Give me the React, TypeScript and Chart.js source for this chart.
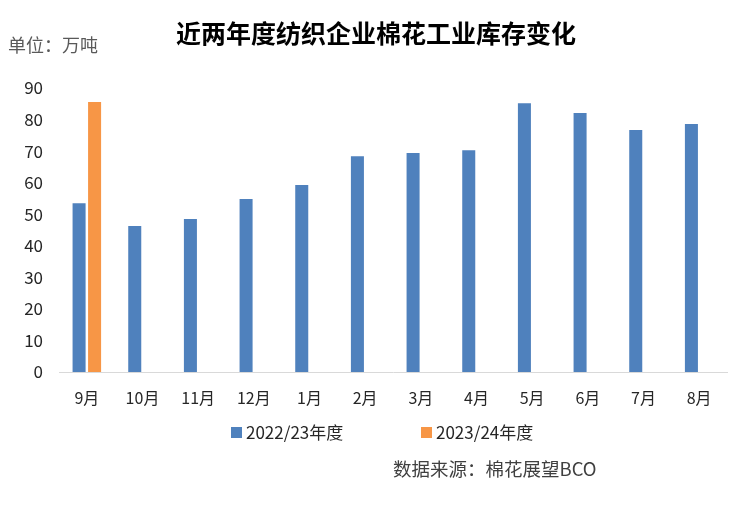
import React, { useEffect, useRef } from "react";
import { Chart, registerables } from "chart.js";

Chart.register(...registerables);

const categories = ["9月", "10月", "11月", "12月", "1月", "2月", "3月", "4月", "5月", "6月", "7月", "8月"];
const series2223 = [53.5, 46.3, 48.5, 54.8, 59.3, 68.4, 69.4, 70.3, 85.2, 82.1, 76.7, 78.6];
const series2324 = [85.6, null, null, null, null, null, null, null, null, null, null, null];
const seriesNames = ["2022/23年度", "2023/24年度"];
const seriesColors = ["#4F81BD", "#F79646"];
const titleText = "近两年度纺织企业棉花工业库存变化";
const unitText = "单位：万吨";
const sourceText = "数据来源：棉花展望BCO";

const FONT = "'Noto Sans CJK SC', 'Noto Sans', sans-serif";

const textPlugin = {
  id: "texts",
  afterDraw(chart: any) {
    const ctx = chart.ctx;
    ctx.save();
    ctx.textBaseline = "middle";
    // title
    ctx.fillStyle = "#000000";
    ctx.font = `bold 25px ${FONT}`;
    ctx.textAlign = "center";
    ctx.fillText(titleText, 376, 33);
    // unit
    ctx.fillStyle = "#595959";
    ctx.font = `18px ${FONT}`;
    ctx.textAlign = "left";
    ctx.fillText(unitText, 8, 45);
    // legend
    ctx.font = `17px ${FONT}`;
    ctx.fillStyle = seriesColors[0];
    ctx.fillRect(231, 427, 11, 11);
    ctx.fillStyle = seriesColors[1];
    ctx.fillRect(421, 427, 11, 11);
    ctx.fillStyle = "#262626";
    ctx.fillText(seriesNames[0], 246, 433);
    ctx.fillText(seriesNames[1], 436, 433);
    // source
    ctx.fillStyle = "#404040";
    ctx.font = `18.5px ${FONT}`;
    ctx.fillText(sourceText, 393, 469);
    ctx.restore();
  },
};

export default function App() {
  const ref = useRef<HTMLCanvasElement>(null);
  useEffect(() => {
    document.body.style.margin = "0";
    const canvas = ref.current!;
    const chart = new Chart(canvas, {
      type: "bar",
      data: {
        labels: categories,
        datasets: [
          {
            label: seriesNames[0],
            data: series2223,
            backgroundColor: seriesColors[0],
            categoryPercentage: 0.557,
            barPercentage: 0.84,
          },
          {
            label: seriesNames[1],
            data: series2324 as any,
            backgroundColor: seriesColors[1],
            categoryPercentage: 0.557,
            barPercentage: 0.84,
          },
        ],
      },
      options: {
        animation: false,
        responsive: false,
        devicePixelRatio: 1,
        layout: { padding: { left: 0, right: 23, top: 88, bottom: 113 } },
        plugins: {
          legend: { display: false },
          title: { display: false },
          tooltip: { enabled: false },
        },
        scales: {
          x: {
            grid: { display: false, drawTicks: false },
            border: { display: true, color: "#D9D9D9", width: 1 },
            ticks: { font: { family: FONT, size: 16 }, color: "#262626", padding: 16, maxRotation: 0 },
            afterFit(scale: any) {
              scale.height = 34;
            },
          },
          y: {
            min: 0,
            max: 90,
            grid: { display: false, drawTicks: false },
            border: { display: false },
            ticks: { stepSize: 10, font: { family: FONT, size: 17 }, color: "#262626", padding: 16 },
            afterFit(scale: any) {
              scale.width = 59;
            },
          },
        },
      },
      plugins: [textPlugin],
    });
    return () => chart.destroy();
  }, []);
  return <canvas ref={ref} width={750} height={519} style={{ display: "block" }} />;
}
